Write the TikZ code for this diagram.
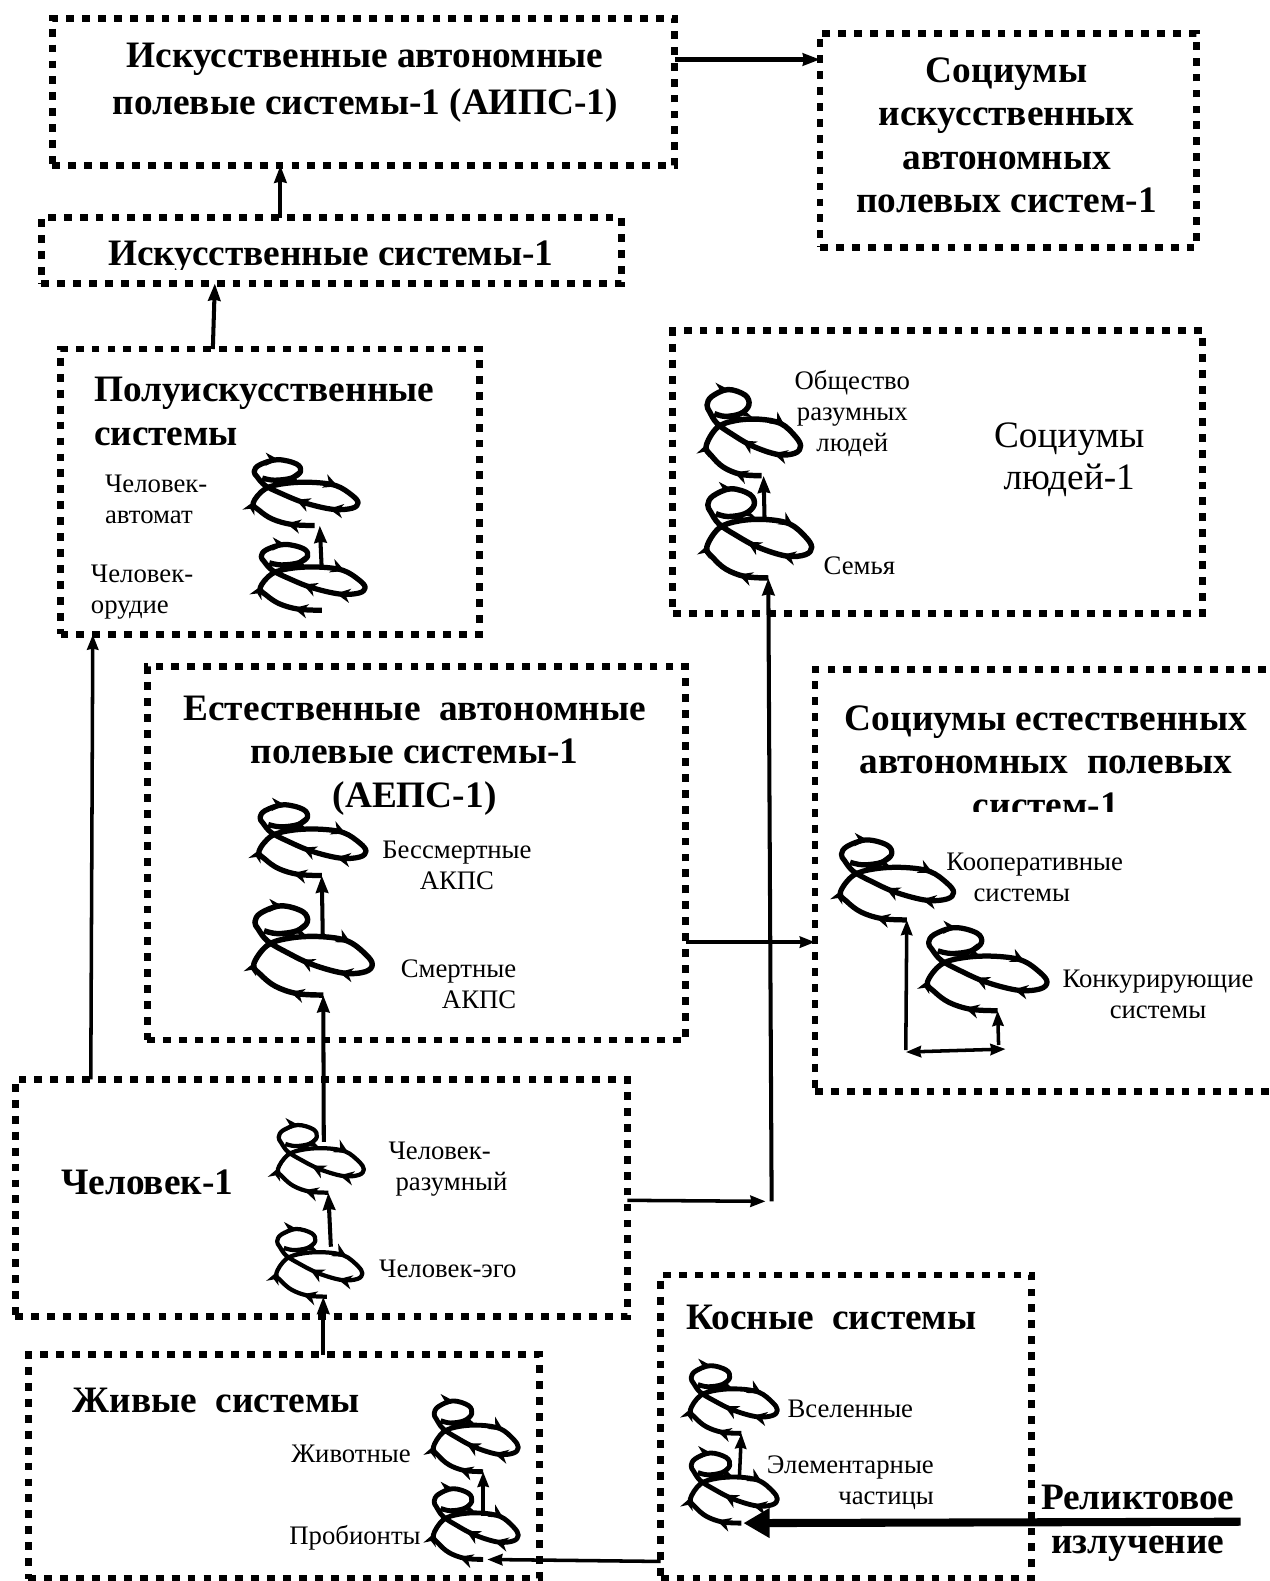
\documentclass[tikz,border=0pt]{standalone}
\usepackage{fontspec}
\setmainfont{Liberation Serif}
\usetikzlibrary{arrows.meta,decorations.markings}
\newcommand{\bigb}{\fontsize{37}{43}\selectfont\bfseries}
\newcommand{\smallr}{\fontsize{26.5}{31}\selectfont}
\newcommand{\larger}{\fontsize{37}{42}\selectfont}
\tikzset{
  x=1pt,y=-1pt,
  dotbox/.style={draw,rectangle,line width=6.8pt,dash pattern=on 7.8pt off 8pt,inner sep=0pt,outer sep=0pt,anchor=north west},
  conn/.style={line width=4pt,-{Stealth[length=17pt,width=12pt,inset=1pt]}},
  thinconn/.style={line width=3.5pt,-{Stealth[length=15pt,width=11pt,inset=1pt]}},
  title/.style={font=\bigb,inner sep=0pt,align=center},
  titlel/.style={font=\bigb,inner sep=0pt,align=left},
  lab/.style={font=\smallr,inner sep=0pt,align=center},
  labl/.style={font=\smallr,inner sep=0pt,align=left},
  labr/.style={font=\smallr,inner sep=0pt,align=right},
  pics/spiral/.style n args={3}{code={
    \draw[line width=#3,line join=round,
      decoration={markings,
        mark=at position .07 with {\arrow{Stealth[length=14pt,width=14pt,inset=4.5pt]}},
        mark=at position .175 with {\arrow{Stealth[length=12pt,width=13pt,inset=4pt]}},
        mark=at position .40 with {\arrow{Stealth[length=14pt,width=14pt,inset=4.5pt]}},
        mark=at position .545 with {\arrow{Stealth[length=14pt,width=14pt,inset=4.5pt]}},
        mark=at position .63 with {\arrow{Stealth[length=14pt,width=14pt,inset=4.5pt]}},
        mark=at position .83 with {\arrow{Stealth[length=13pt,width=13pt,inset=4pt]}},
        mark=at position .94 with {\arrow{Stealth[length=13pt,width=13pt,inset=4pt]}}},
      postaction={decorate},xscale=#1,yscale=#2]
      plot[smooth,tension=.6] coordinates {(0,0)(-23,-1)(-42,-6)(-55,-14)(-61,-21)(-49,-34)(-29,-39)(-3,-40)(21,-37)(37,-28)(43,-21)(37,-16)(18,-15)(-10,-21)(-33,-29.6)(-49,-37)(-57,-45)(-60,-50)(-55,-56)(-37,-61)(-18,-57)(-14,-50)(-23,-44)(-40,-42)(-52,-44)};
    \coordinate (-tail) at (0,0);
  }},
}
\begin{document}
\begin{tikzpicture}
\useasboundingbox (0,0) rectangle (1259,1567.4);
\clip (0,0) rectangle (1259,1567.4);
% boxes
\node[dotbox,minimum width=617pt,minimum height=146pt] (aips) at (52,18) {};
\node[dotbox,minimum width=373pt,minimum height=212pt] (socaips) at (813,33) {};
\node[dotbox,minimum width=575pt,minimum height=65pt] (art) at (41,216) {};
\node[dotbox,minimum width=415pt,minimum height=283pt] (semi) at (60,346) {};
\node[dotbox,minimum width=525pt,minimum height=280pt] (socpeople) at (667,328) {};
\node[dotbox,minimum width=534pt,minimum height=370pt] (aeps) at (146,661) {};
\node[dotbox,minimum width=520pt,minimum height=418pt] (socaeps) at (808,664) {};
\node[dotbox,minimum width=607pt,minimum height=235pt] (man) at (15,1070) {};
\node[dotbox,minimum width=507pt,minimum height=222pt] (live) at (28,1343) {};
\node[dotbox,minimum width=368pt,minimum height=301pt] (inert) at (655,1264) {};
% titles
\node[title] (taips) at (362,82) {Искусственные автономные\\[3pt]полевые системы-1 (АИПС-1)};
\node[title] (tsoc) at (998,134) {Социумы\\искусственных\\автономных\\полевых систем-1};
\begin{scope}
\clip (100,220) rectangle (560,267);
\node[title] (tart) at (328,255) {Искусственные системы-1};
\end{scope}
\node[titlel,anchor=west] (tsemi) at (93,408) {Полуискусственные\\системы};
\node[title] (taeps) at (411,749) {Естественные\ \ автономные\\полевые системы-1\\(АЕПС-1)};
\begin{scope}
\clip (820,680) rectangle (1259,805);
\node[title] (tsn) at (1037,755) {Социумы естественных\\автономных\ \ полевых\\систем-1};
\end{scope}
\node[title] (tman) at (146,1172) {Человек-1};
\node[titlel,anchor=west] (tinert) at (680,1306) {Косные\ \ системы};
\node[titlel,anchor=west] (tlive) at (72,1388) {Живые\ \ системы};
\node[title] (trel) at (1128,1510) {Реликтовое\\[1pt]излучение};
\node[font=\larger,inner sep=0pt,align=center] (tsp) at (1060,456) {Социумы\\людей-1};
% labels
\node[labl,anchor=west] (l1) at (104,495) {Человек-\\автомат};
\node[labl,anchor=west] (l2) at (90,587) {Человек-\\орудие};
\node[lab] (l3) at (845,410) {Общество\\разумных\\людей};
\node[lab] (l4) at (852,561) {Семья};
\node[lab] (l5) at (453,858) {Бессмертные\\АКПС};
\node[labr,anchor=east] (l6) at (512,976) {Смертные\\АКПС};
\node[labl,anchor=west] (l7) at (938,870) {Кооперативные\\\hspace*{27pt}системы};
\node[lab] (l8) at (1148,986) {Конкурирующие\\системы};
\node[labl,anchor=west] (l9) at (385,1159) {Человек-\\\hspace*{7pt}разумный};
\node[lab] (l10) at (444,1258) {Человек-эго};
\node[lab] (l11) at (843,1397) {Вселенные};
\node[labr,anchor=east] (l12) at (926,1470) {Элементарные\\частицы};
\node[lab] (l13) at (348,1441) {Животные};
\node[lab] (l14) at (352,1525) {Пробионты};
% spirals
\pic (s1) at (312,521) {spiral={1}{1.07}{5.2pt}};
\pic (s2) at (319,605) {spiral={1}{1.07}{5.2pt}};
\pic (s3) at (319,868) {spiral={1.02}{1.15}{5.2pt}};
\pic (s4) at (320.5,986.5) {spiral={1.13}{1.45}{5.4pt}};
\pic (s5) at (755,471.6) {spiral={.9}{1.4}{5.4pt}};
\pic (s6) at (761.7,573) {spiral={1}{1.45}{5.4pt}};
\pic (s7) at (899,912) {spiral={1.08}{1.3}{5.2pt}};
\pic (s8) at (989,1002) {spiral={1.14}{1.35}{5.2pt}};
\pic (s9) at (325.5,1182.4) {spiral={.82}{1.1}{4.2pt}};
\pic (s10) at (324,1285.5) {spiral={.82}{1.1}{4.2pt}};
\pic (s11) at (479,1459) {spiral={.81}{1.15}{4.8pt}};
\pic (s12) at (479,1546) {spiral={.81}{1.15}{4.8pt}};
\pic (s13) at (735,1421) {spiral={.83}{1.1}{4.8pt}};
\pic (s14) at (735,1510) {spiral={.83}{1.14}{4.8pt}};
% connectors
\draw[conn] (aips.east |- 671,59) -- (socaips.west |- 671,59);
\draw[conn] (art.north -| 278,0) -- (aips.south -| 278,0);
\draw[conn] (semi.north -| 211,0) -- (art.south -| 213,0);
\draw[thinconn] (man.north -| 90,0) -- (semi.south -| 92,0);
\draw[thinconn] (aeps.east |- 679,934) -- (socaeps.west |- 679,934);
\draw[conn] (319,565) -- (s1-tail -| 317,0);
\draw[conn] (758,515.6) -- (s5-tail -| 757,0);
\draw[conn] (320,928.6) -- (s3-tail);
\draw[conn] (321,1132) -- (s4-tail);
\draw[conn] (328,1236) -- (s9-tail);
\draw[conn] (live.north -| 320.5,0) -- (s10-tail -| 320.5,0);
\draw[thinconn] (479,1503) -- (s11-tail);
\draw[thinconn] (733,1465) -- (s13-tail);
\draw[thinconn,shorten >=4pt] (inert.west |- 661,1548) -- (s12-tail);
\draw[thinconn] (898,1041) -- (s7-tail);
\draw[thinconn,{Stealth[length=15pt,width=11pt,inset=1pt]}-{Stealth[length=15pt,width=11pt,inset=1pt]}] (898,1043) -- (997,1040);
\draw[thinconn] (990,1036) -- (s8-tail);
\coordinate (junction) at (765,1191);
\draw[thinconn] (man.east |- 628,1190) -- ([xshift=-6pt]junction);
\draw[conn] (junction) -- (s6-tail);
\draw[line width=8pt,shorten >=2pt,-{Stealth[length=26pt,width=28pt,inset=0pt]}] (1230,1508.6) -- (s14-tail);
\end{tikzpicture}
\end{document}
